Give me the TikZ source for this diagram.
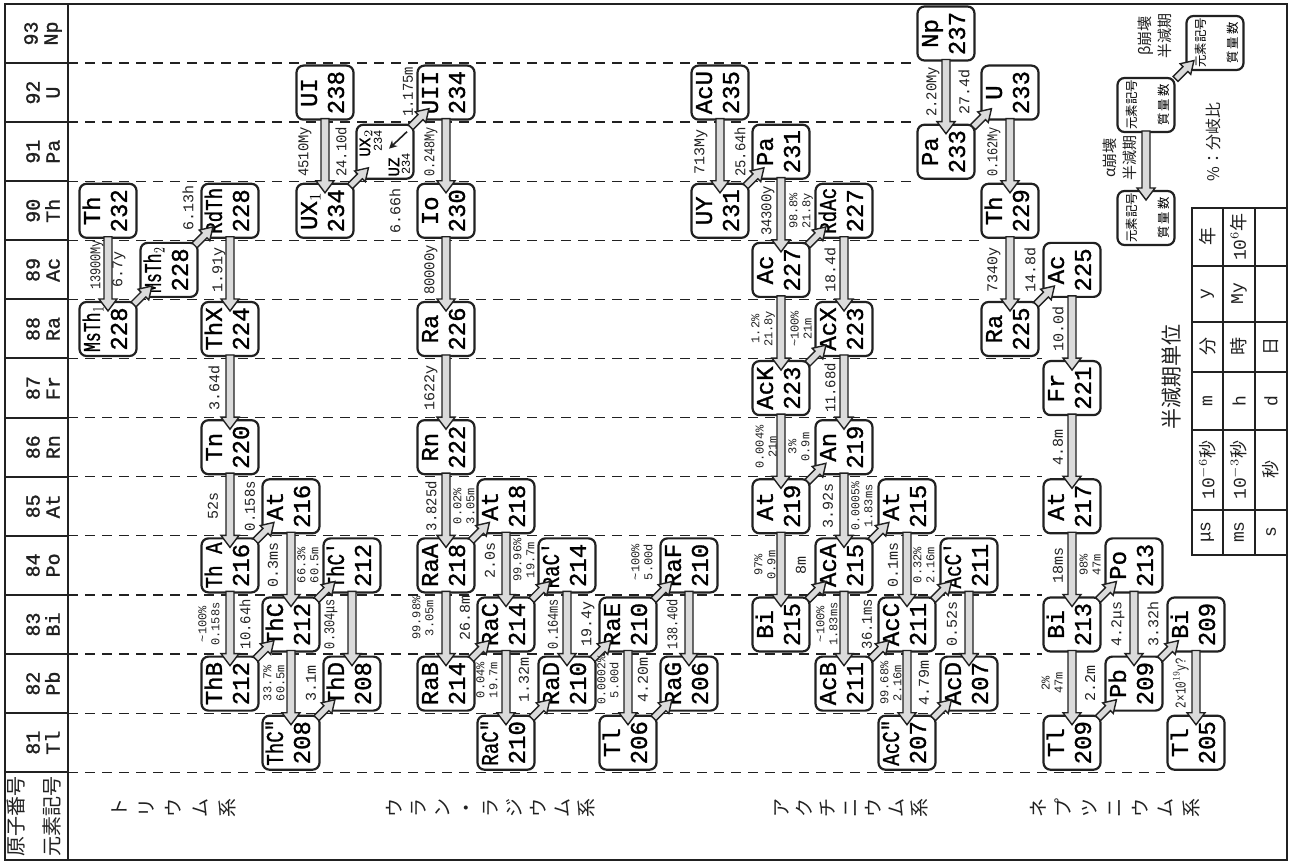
\documentclass[tikz,border=0pt]{standalone}
\usepackage{fontspec}
\usepackage{graphicx}
\usetikzlibrary{calc,arrows.meta}
\newfontfamily\mono{Liberation Mono}
\newfontfamily\monob[FakeBold=1.2]{Liberation Mono}
\newfontfamily\cjk{Noto Sans CJK JP}
\definecolor{ink}{gray}{0.13}
\newcommand\fitw[2]{\sbox0{#2}\ifdim\wd0>#1\relax\resizebox{#1}{\height}{\usebox0}\else\usebox0\fi}
\newcommand\cbox[1]{\sbox2{#1}\makebox[0pt]{\raisebox{\dimexpr 0.5\dp2-0.5\ht2\relax}[0pt][0pt]{\usebox2}}}
\newcommand\bt[2]{\cbox{\rotatebox{90}{\monob\fontsize{12}{13.5}\selectfont\begin{tabular}{@{}c@{}}\fitw{23pt}{#1}\\#2\end{tabular}}}}
\newcommand\lt{\cbox{\rotatebox{90}{\cjk\fontsize{6.2}{16}\selectfont\begin{tabular}{@{}c@{}}元素記号\\質\,量\,数\end{tabular}}}}
\tikzset{
 frm/.style={draw=ink, line width=1pt},
 gridline/.style={draw=ink, line width=0.6pt, dash pattern=on 5pt off 3.5pt},
 nbox/.style={draw=ink, line width=1.1pt, rounded corners=3.5pt, fill=white, minimum width=28.5pt, minimum height=27pt, inner sep=0pt, outer sep=0pt},
 afill/.style={fill=black!14, draw=ink, line width=0.7pt},
 lab/.style={rotate=90, inner sep=0pt, text=ink, font=\mono\fontsize{7.5}{8}\selectfont},
 lab2/.style={rotate=90, inner sep=0pt, text=ink, align=center, font=\mono\fontsize{6}{6.5}\selectfont},
 hdr/.style={rotate=90, inner sep=0pt, text=ink, align=center, font=\monob\fontsize{10}{10}\selectfont},
 slab/.style={rotate=90, inner sep=0pt, text=ink, align=center},
 cell/.style={rotate=90, inner sep=0pt, text=ink, font=\mono\fontsize{9}{10}\selectfont},
}
\newcommand\lab[4]{\node[lab] (#1) at (#2,#3) {\fitw{25pt}{#4}};}
\newcommand\labb[5]{\node[lab2] (#1) at (#2,#3) {\fitw{24pt}{#4}\\\fitw{24pt}{#5}};}
\newcommand\aarrow[2]{%
 \path (#1.south) coordinate (aS) (#2.north) coordinate (aT);
 \filldraw[afill] ($(aS)+(-4,-1)$) -- ($(aT)+(-4,-3)$) -- ($(aT)+(-9,-3)$) -- ($(aT)+(0,9)$) -- ($(aT)+(9,-3)$) -- ($(aT)+(4,-3)$) -- ($(aS)+(4,-1)$) -- cycle;}
\newcommand\barrow[2]{%
 \path ($(#1.north east)!.5!(#2.south west)$) coordinate (bJ);
 \begin{scope}[shift={(bJ)}, rotate=45]
 \filldraw[afill] (-7,-3.5) -- (7,-3.5) -- (7,-7.5) -- (19,0) -- (7,7.5) -- (7,3.5) -- (-7,3.5) -- cycle;
 \end{scope}}
\begin{document}
\begin{tikzpicture}[x=0.5pt,y=-0.5pt]
\useasboundingbox[fill=white] (0,0) rectangle (1295,865);
% grid
\foreach \k/\xe in {0/917,1/917,2/917,3/980,4/980,5/1042,6/1042,7/1042,8/1042,9/1042,10/1042,11/1042,12/1165} {
 \pgfmathsetmacro\yy{63+59.1*\k}
 \draw[gridline] (68,\yy) -- (\xe,\yy);
 \draw[frm] (5,\yy) -- (68,\yy);
}
\draw[frm] (5,4) rectangle (1287,860);
\draw[frm] (68,4) -- (68,860);
\foreach \z/\s [count=\i from 0] in {93/Np,92/U,91/Pa,90/Th,89/Ac,88/Ra,87/Fr,86/Rn,85/At,84/Po,83/Bi,82/Pb,81/Tl} {
 \pgfmathsetmacro\yy{33.5+59.1*\i}
 \node[hdr] (h\z) at (43,\yy) {\z\\\s};
}
\node[slab, font=\cjk\fontsize{10}{18}\selectfont] (hh) at (34,816) {原子番号\\元素記号};
% series names
\node[slab, font=\cjk\fontsize{9.5}{13.5}\selectfont] (s1) at (174,808) {ト\\リ\\ウ\\ム\\系};
\node[slab, font=\cjk\fontsize{9.5}{12}\selectfont] (s2) at (491,808) {ウ\\ラ\\ン\\・\\ラ\\ジ\\ウ\\ム\\系};
\node[slab, font=\cjk\fontsize{9.5}{11.5}\selectfont] (s3) at (851,808) {ア\\ク\\チ\\ニ\\ウ\\ム\\系};
\node[slab, font=\cjk\fontsize{9.5}{12.75}\selectfont] (s4) at (1115,808) {ネ\\プ\\ツ\\ニ\\ウ\\ム\\系};
% ---------------- thorium series
\node[nbox] (th232) at (108,210.8) {\bt{Th}{232}};
\node[nbox] (msth1) at (108,329.0) {\bt{MsTh$_1$}{228}};
\node[nbox] (msth2) at (169,269.9) {\bt{MsTh$_2$}{228}};
\node[nbox] (rdth) at (230,210.8) {\bt{RdTh}{228}};
\node[nbox] (thx) at (230,329.0) {\bt{ThX}{224}};
\node[nbox] (tn) at (230,447.2) {\bt{Tn}{220}};
\node[nbox] (tha) at (230,565.4) {\bt{Th A}{216}};
\node[nbox] (at216) at (291,506.3) {\bt{At}{216}};
\node[nbox] (thb) at (230,683.6) {\bt{ThB}{212}};
\node[nbox] (thc) at (291,624.5) {\bt{ThC}{212}};
\node[nbox] (thc1) at (352,565.4) {\bt{ThC′}{212}};
\node[nbox] (thc2) at (291,742.7) {\bt{ThC″}{208}};
\node[nbox] (thd) at (352,683.6) {\bt{ThD}{208}};
% ---------------- uranium series
\node[nbox] (ui) at (325,92.6) {\bt{UI}{238}};
\node[nbox] (ux1) at (325,210.8) {\bt{UX$_1$}{234}};
\node[nbox] (uxz) at (385,151.7) {};
\node[nbox] (uii) at (446,92.6) {\bt{UII}{234}};
\node[nbox] (io) at (446,210.8) {\bt{Io}{230}};
\node[nbox] (ra226) at (446,329.0) {\bt{Ra}{226}};
\node[nbox] (rn) at (446,447.2) {\bt{Rn}{222}};
\node[nbox] (raa) at (446,565.4) {\bt{RaA}{218}};
\node[nbox] (at218) at (506,506.3) {\bt{At}{218}};
\node[nbox] (rab) at (446,683.6) {\bt{RaB}{214}};
\node[nbox] (rac) at (506,624.5) {\bt{RaC}{214}};
\node[nbox] (rac1) at (567,565.4) {\bt{RaC′}{214}};
\node[nbox] (rac2) at (506,742.7) {\bt{RaC″}{210}};
\node[nbox] (rad) at (567,683.6) {\bt{RaD}{210}};
\node[nbox] (rae) at (628,624.5) {\bt{RaE}{210}};
\node[nbox] (raf) at (689,565.4) {\bt{RaF}{210}};
\node[nbox] (tl206) at (628,742.7) {\bt{Tl}{206}};
\node[nbox] (rag) at (689,683.6) {\bt{RaG}{206}};
% ---------------- actinium series
\node[nbox] (acu) at (720,92.6) {\bt{AcU}{235}};
\node[nbox] (uy) at (720,210.8) {\bt{UY}{231}};
\node[nbox] (pa231) at (781,151.7) {\bt{Pa}{231}};
\node[nbox] (ac227) at (781,269.9) {\bt{Ac}{227}};
\node[nbox] (rdac) at (844,210.8) {\bt{RdAc}{227}};
\node[nbox] (acx) at (844,329.0) {\bt{AcX}{223}};
\node[nbox] (ack) at (781,388.1) {\bt{AcK}{223}};
\node[nbox] (an) at (844,447.2) {\bt{An}{219}};
\node[nbox] (at219) at (781,506.3) {\bt{At}{219}};
\node[nbox] (bi215) at (781,624.5) {\bt{Bi}{215}};
\node[nbox] (aca) at (844,565.4) {\bt{AcA}{215}};
\node[nbox] (at215) at (907,506.3) {\bt{At}{215}};
\node[nbox] (acb) at (844,683.6) {\bt{AcB}{211}};
\node[nbox] (acc) at (907,624.5) {\bt{AcC}{211}};
\node[nbox] (acc1) at (969,565.4) {\bt{AcC′}{211}};
\node[nbox] (acc2) at (907,742.7) {\bt{AcC″}{207}};
\node[nbox] (acd) at (969,683.6) {\bt{AcD}{207}};
% ---------------- neptunium series
\node[nbox] (np) at (946,33.5) {\bt{Np}{237}};
\node[nbox] (pa233) at (946,151.7) {\bt{Pa}{233}};
\node[nbox] (u233) at (1010,92.6) {\bt{U}{233}};
\node[nbox] (th229) at (1010,210.8) {\bt{Th}{229}};
\node[nbox] (ra225) at (1010,329.0) {\bt{Ra}{225}};
\node[nbox] (ac225) at (1072,269.9) {\bt{Ac}{225}};
\node[nbox] (fr221) at (1072,388.1) {\bt{Fr}{221}};
\node[nbox] (at217) at (1072,506.3) {\bt{At}{217}};
\node[nbox] (bi213) at (1072,624.5) {\bt{Bi}{213}};
\node[nbox] (po213) at (1134,565.4) {\bt{Po}{213}};
\node[nbox] (pb209) at (1134,683.6) {\bt{Pb}{209}};
\node[nbox] (tl209) at (1072,742.7) {\bt{Tl}{209}};
\node[nbox] (bi209) at (1196,624.5) {\bt{Bi}{209}};
\node[nbox] (tl205) at (1196,742.7) {\bt{Tl}{205}};
% ---------------- legend boxes
\node[nbox] (lg1) at (1146,105) {\lt};
\node[nbox] (lg2) at (1146,218) {\lt};
\node[nbox] (lg3) at (1215,43) {\lt};
% UX2 / UZ box contents
\node[rotate=90, inner sep=0pt, font=\monob\fontsize{8}{8}\selectfont] (uxa) at (366,143) {UX$_2$};
\node[rotate=90, inner sep=0pt, font=\mono\fontsize{6}{6}\selectfont] (uxb) at (378,141) {234};
\node[rotate=90, inner sep=0pt, font=\monob\fontsize{8}{8}\selectfont] (uxc) at (394,167) {UZ};
\node[rotate=90, inner sep=0pt, font=\mono\fontsize{6}{6}\selectfont] (uxd) at (406,164) {234};
\draw[ink, line width=0.8pt, -{Stealth[length=4pt,width=4pt]}] ($(uxz.center)+(22,-20)$) -- ($(uxz.center)+(4,-3)$);
% ---------------- alpha arrows
\aarrow{th232}{msth1} \aarrow{rdth}{thx} \aarrow{thx}{tn} \aarrow{tn}{tha} \aarrow{tha}{thb}
\aarrow{at216}{thc} \aarrow{thc}{thc2} \aarrow{thc1}{thd}
\aarrow{ui}{ux1} \aarrow{uii}{io} \aarrow{io}{ra226} \aarrow{ra226}{rn} \aarrow{rn}{raa} \aarrow{raa}{rab}
\aarrow{at218}{rac} \aarrow{rac}{rac2} \aarrow{rac1}{rad} \aarrow{rae}{tl206} \aarrow{raf}{rag}
\aarrow{acu}{uy} \aarrow{pa231}{ac227} \aarrow{ac227}{ack} \aarrow{rdac}{acx} \aarrow{acx}{an} \aarrow{ack}{at219}
\aarrow{an}{aca} \aarrow{at219}{bi215} \aarrow{aca}{acb} \aarrow{at215}{acc} \aarrow{acc}{acc2} \aarrow{acc1}{acd}
\aarrow{np}{pa233} \aarrow{u233}{th229} \aarrow{th229}{ra225} \aarrow{ac225}{fr221} \aarrow{fr221}{at217}
\aarrow{at217}{bi213} \aarrow{bi213}{tl209} \aarrow{po213}{pb209} \aarrow{bi209}{tl205}
\aarrow{lg1}{lg2}
% ---------------- beta arrows
\barrow{msth1}{msth2} \barrow{msth2}{rdth} \barrow{tha}{at216} \barrow{thb}{thc} \barrow{thc}{thc1} \barrow{thc2}{thd}
\barrow{ux1}{uxz} \barrow{uxz}{uii} \barrow{raa}{at218} \barrow{rab}{rac} \barrow{rac}{rac1} \barrow{rac2}{rad}
\barrow{rad}{rae} \barrow{rae}{raf} \barrow{tl206}{rag}
\barrow{uy}{pa231} \barrow{ac227}{rdac} \barrow{ack}{acx} \barrow{at219}{an} \barrow{bi215}{aca} \barrow{aca}{at215}
\barrow{acb}{acc} \barrow{acc}{acc1} \barrow{acc2}{acd}
\barrow{pa233}{u233} \barrow{ra225}{ac225} \barrow{bi213}{po213} \barrow{tl209}{pb209} \barrow{pb209}{bi209}
\barrow{lg1}{lg3}
% ---------------- labels thorium
\lab{l1}{97}{265}{13900My}
\lab{l2}{119}{270}{6.7y}
\lab{l3}{188}{208}{6.13h}
\lab{l4}{219}{270}{1.91y}
\lab{l5}{214}{388}{3.64d}
\lab{l6}{213}{506}{52s}
\lab{l7}{250}{506}{0.158s}
\labb{l8}{209}{624}{\textasciitilde100\%}{0.158s}
\lab{l9}{245}{624}{10.64h}
\lab{l10}{273}{565}{0.3ms}
\labb{l11}{308}{565}{66.3\%}{60.5m}
\lab{l12}{331}{624}{0.304μs}
\labb{l13}{274}{683}{33.7\%}{60.5m}
\lab{l14}{311}{683}{3.1m}
% uranium
\lab{l15}{305}{152}{4510My}
\lab{l16}{341}{152}{24.10d}
\lab{l17}{395}{211}{6.66h}
\lab{l18}{408}{92}{1.175m}
\lab{l19}{431}{152}{0.248My}
\lab{l20}{431}{270}{80000y}
\lab{l21}{431}{388}{1622y}
\lab{l22}{431}{506}{3.825d}
\labb{l23}{464}{506}{0.02\%}{3.05m}
\lab{l24}{490}{560}{2.0s}
\labb{l25}{423}{618}{99.98\%}{3.05m}
\lab{l26}{465}{618}{26.8m}
\labb{l27}{524}{560}{99.96\%}{19.7m}
\labb{l28}{487}{680}{0.04\%}{19.7m}
\lab{l29}{524}{680}{1.32m}
\lab{l30}{553}{624}{0.164ms}
\lab{l31}{588}{624}{19.4y}
\labb{l32}{608}{680}{0.0002\%}{5.00d}
\lab{l33}{643}{680}{4.20m}
\labb{l34}{642}{562}{\textasciitilde100\%}{5.00d}
\lab{l35}{672}{624}{138.40d}
% actinium
\lab{l36}{701}{152}{713My}
\lab{l37}{740}{152}{25.64h}
\lab{l38}{768}{211}{34300y}
\labb{l39}{801}{211}{98.8\%}{21.8y}
\lab{l40}{830}{270}{18.4d}
\labb{l41}{763}{329}{1.2\%}{21.8y}
\labb{l42}{801}{329}{\textasciitilde100\%}{21m}
\lab{l43}{830}{388}{11.68d}
\labb{l44}{766}{447}{0.004\%}{21m}
\labb{l45}{799}{447}{3\%}{0.9m}
\lab{l46}{828}{506}{3.92s}
\labb{l47}{862}{506}{0.0005\%}{1.83ms}
\labb{l48}{765}{565}{97\%}{0.9m}
\lab{l49}{801}{565}{8m}
\lab{l50}{893}{565}{0.1ms}
\labb{l51}{924}{565}{0.32\%}{2.16m}
\labb{l52}{827}{624}{\textasciitilde100\%}{1.83ms}
\lab{l53}{867}{624}{36.1ms}
\lab{l54}{952}{624}{0.52s}
\labb{l55}{891}{683}{99.68\%}{2.16m}
\lab{l56}{924}{683}{4.79m}
% neptunium
\lab{l57}{933}{92}{2.20My}
\lab{l58}{964}{92}{27.4d}
\lab{l59}{994}{152}{0.162My}
\lab{l60}{994}{270}{7340y}
\lab{l61}{1030}{270}{14.8d}
\lab{l62}{1058}{329}{10.0d}
\lab{l63}{1058}{447}{4.8m}
\lab{l64}{1058}{565}{18ms}
\labb{l65}{1090}{565}{98\%}{47m}
\labb{l66}{1052}{683}{2\%}{47m}
\lab{l67}{1090}{683}{2.2m}
\lab{l68}{1118}{624}{4.2μs}
\lab{l69}{1153}{624}{3.32h}
\lab{l70}{1181}{683}{2×10$^{19}$y?}
% legend texts
\node[slab, font=\cjk\fontsize{7.5}{10}\selectfont] (la) at (1120,158) {α崩壊\\半減期};
\node[slab, font=\cjk\fontsize{7.5}{10}\selectfont] (lb) at (1155,36) {β崩壊\\半減期};
\node[slab, font=\cjk\fontsize{8}{9}\selectfont] (lc) at (1213,142) {\%：分岐比};
\node[slab, font=\cjk\fontsize{10.5}{11}\selectfont] (ld) at (1172,377) {半減期単位};
% unit table
\draw[frm] (1192,208) rectangle (1287,555);
\foreach \xx in {1223,1255} \draw[frm] (\xx,208) -- (\xx,555);
\foreach \yy in {266,322,372,430,510} \draw[frm] (1192,\yy) -- (1287,\yy);
\node[cell] (c11) at (1207.5,237) {\cjk 年};
\node[cell] (c12) at (1207.5,294) {y};
\node[cell] (c13) at (1207.5,347) {\cjk 分};
\node[cell] (c14) at (1207.5,401) {m};
\node[cell] (c15) at (1207.5,470) {10$^{-6}${\cjk 秒}};
\node[cell] (c16) at (1207.5,532) {μs};
\node[cell] (c21) at (1239,237) {10$^{6}${\cjk 年}};
\node[cell] (c22) at (1239,294) {My};
\node[cell] (c23) at (1239,347) {\cjk 時};
\node[cell] (c24) at (1239,401) {h};
\node[cell] (c25) at (1239,470) {10$^{-3}${\cjk 秒}};
\node[cell] (c26) at (1239,532) {ms};
\node[cell] (c33) at (1271,347) {\cjk 日};
\node[cell] (c34) at (1271,401) {d};
\node[cell] (c35) at (1271,470) {\cjk 秒};
\node[cell] (c36) at (1271,532) {s};
\end{tikzpicture}
\end{document}
